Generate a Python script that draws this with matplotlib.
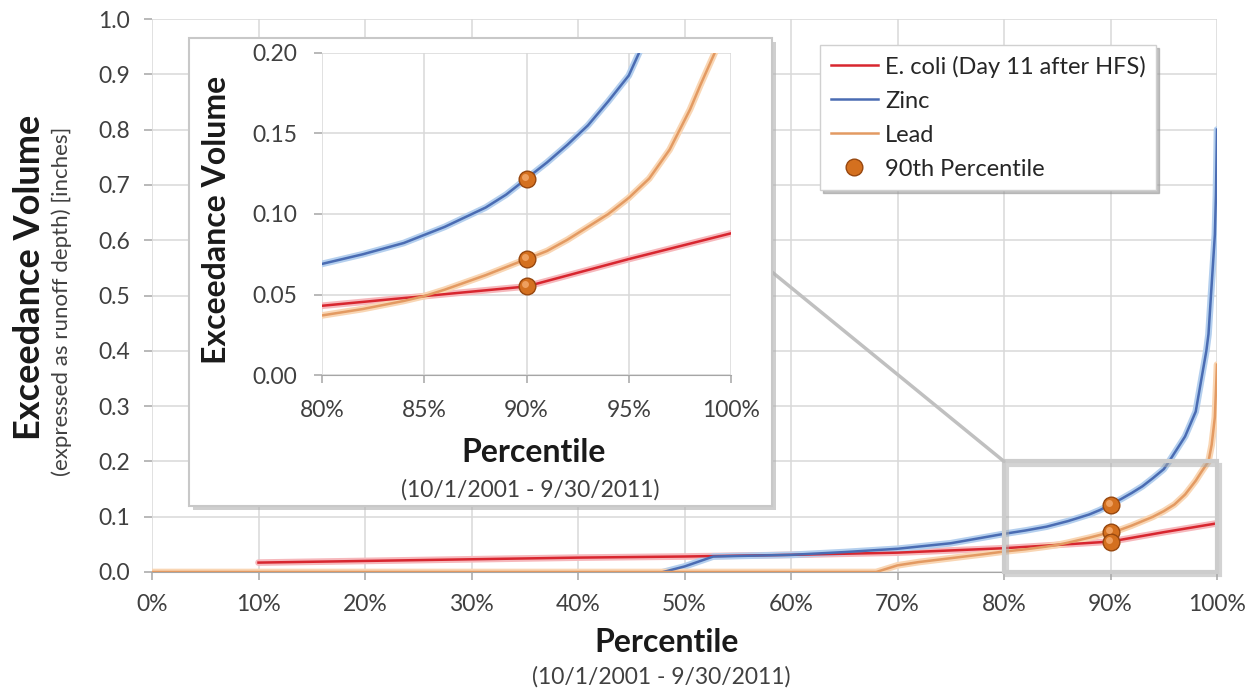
import matplotlib.pyplot as plt
from matplotlib.patches import Rectangle, ConnectionPatch
from matplotlib.ticker import FuncFormatter
import matplotlib.transforms as mtransforms

plt.rcParams['font.family'] = ['Lato', 'DejaVu Sans']

# ---- data ----
ecoli_pct = [10, 20, 30, 40, 50, 60, 70, 75, 80, 85, 90, 95, 100]
ecoli_vol = [0.017, 0.020, 0.023, 0.026, 0.028, 0.031, 0.035, 0.039, 0.043, 0.049, 0.055, 0.072, 0.088]

zinc_pct = [48, 50, 52.7, 55, 60, 65, 70, 75, 80, 82, 84, 85, 86, 88, 89, 90, 91, 92, 93, 94,
            95, 95.5, 96, 97, 98, 99, 99.2, 99.5, 99.8, 99.9, 100]
zinc_vol = [0.000, 0.010, 0.028, 0.029, 0.031, 0.036, 0.042, 0.052, 0.069, 0.075, 0.082, 0.087,
            0.092, 0.104, 0.112, 0.122, 0.132, 0.143, 0.155, 0.170, 0.186, 0.200, 0.215, 0.245,
            0.290, 0.400, 0.430, 0.520, 0.610, 0.680, 0.800]

lead_pct = [0, 68, 70, 72, 75, 78, 80, 82, 84, 85, 86, 88, 89, 90, 91, 92, 93, 94, 95, 96, 97,
            97.4, 98, 98.5, 99.2, 99.5, 99.8, 100]
lead_vol = [0.000, 0.000, 0.012, 0.018, 0.025, 0.032, 0.037, 0.041, 0.046, 0.049, 0.053, 0.062,
            0.067, 0.072, 0.077, 0.084, 0.092, 0.100, 0.110, 0.122, 0.140, 0.150, 0.165, 0.180,
            0.200, 0.230, 0.280, 0.375]

p90_pct = [90, 90, 90]
p90_vol = [0.122, 0.072, 0.055]

series = [
    ('E. coli (Day 11 after HFS)', ecoli_pct, ecoli_vol, '#D8262F', '#F6B8BC'),
    ('Zinc', zinc_pct, zinc_vol, '#4A6CB3', '#B4CFEE'),
    ('Lead', lead_pct, lead_vol, '#E39A62', '#F9D6B4'),
]

W, H = 1253, 691
fig = plt.figure(figsize=(W / 100, H / 100), dpi=100)
fig.patch.set_facecolor('white')

grid_c = '#D9D9D9'
tick_c = '#404040'
ball_face = '#D4701F'
ball_edge = '#97470F'


def style_axes(a):
    for s in ['top', 'right', 'left']:
        a.spines[s].set_visible(False)
    a.spines['bottom'].set_color('#A6A6A6')
    a.grid(True, color=grid_c, lw=1.1, zorder=0)
    a.set_axisbelow(True)
    a.tick_params(axis='both', colors='#A6A6A6', labelcolor=tick_c, labelsize=16.5,
                  length=6, width=1.1, direction='out')


def draw_series(a, lw):
    for name, xs, ys, c, glow in series:
        a.plot(xs, ys, color=glow, lw=lw + 3, solid_capstyle='round', zorder=2)
    for name, xs, ys, c, glow in series:
        a.plot(xs, ys, color=c, lw=lw, label=name, zorder=3)
    hl = mtransforms.offset_copy(a.transData, fig=fig, x=-2, y=2, units='dots')
    a.plot(p90_pct, p90_vol, 'o', ms=12, mfc=ball_face, mec=ball_edge, mew=1,
           zorder=4, label='90th Percentile')
    a.plot(p90_pct, p90_vol, 'o', ms=5, mfc='#F2A566', mec='none', alpha=0.9,
           zorder=5, transform=hl)


# ---- main axes ----
ax = fig.add_axes([152 / W, 1 - 572 / H, 1065 / W, 553 / H])
style_axes(ax)
ax.set_xlim(0, 100)
ax.set_ylim(0, 1.0)
ax.set_xticks(range(0, 101, 10))
ax.set_yticks([i / 10 for i in range(11)])
ax.xaxis.set_major_formatter(FuncFormatter(lambda v, p: f'{v:.0f}%'))
ax.yaxis.set_major_formatter(FuncFormatter(lambda v, p: f'{v:.1f}'))
ax.tick_params(axis='x', pad=10)
ax.tick_params(axis='y', pad=10)
draw_series(ax, 1.8)

# zoom box on main chart
ax.add_patch(Rectangle((80.3, -0.006), 20, 0.2, fill=False, ec='#A8A8A8', lw=3,
                       zorder=5, alpha=0.5, clip_on=False))
ax.add_patch(Rectangle((80, 0), 20, 0.2, fill=False, ec='#CCCCCC', lw=3, zorder=5,
                       clip_on=False))

h, l = ax.get_legend_handles_labels()
leg = ax.legend(h[:4], l[:4], loc='upper left', bbox_to_anchor=(820 / W, 1 - 45 / H),
                bbox_transform=fig.transFigure, fontsize=17, frameon=True, fancybox=False,
                shadow={'color': '#9A9A9A', 'alpha': 0.6}, edgecolor='#D0D0D0',
                borderaxespad=0, handlelength=2.0, handletextpad=0.3, labelspacing=0.55,
                borderpad=0.45)
leg.get_frame().set_linewidth(1)
for t in leg.get_texts():
    t.set_color('#262626')

# main labels
fig.text(30 / W, 1 - 277 / H, 'Exceedance Volume', rotation=90, ha='center', va='center',
         fontsize=26, fontweight='bold', color='#1A1A1A')
fig.text(62 / W, 1 - 301 / H, '(expressed as runoff depth) [inches]', rotation=90,
         ha='center', va='center', fontsize=16, color='#404040')
fig.text(667 / W, 1 - 643 / H, 'Percentile', ha='center', va='center', fontsize=23,
         fontweight='bold', color='#1A1A1A')
fig.text(661 / W, 1 - 677 / H, '(10/1/2001 - 9/30/2011)', ha='center', va='center',
         fontsize=16.5, color='#404040')

# connector line from zoom box to inset frame
con = ConnectionPatch(xyA=(80, 0.2), coordsA=ax.transData,
                      xyB=(772 / W, 1 - 272 / H), coordsB=fig.transFigure,
                      color='#C0C0C0', lw=2.5, zorder=1)
fig.add_artist(con)

# inset frame (shadow + white box)
fl, fr, ft, fb = 189, 772, 38, 506
fig.add_artist(Rectangle(((fl + 4) / W, 1 - (fb + 4) / H), (fr - fl) / W, (fb - ft) / H,
                         transform=fig.transFigure, fc='#B0B0B0', ec='none', alpha=0.6,
                         zorder=1.5))
fig.add_artist(Rectangle((fl / W, 1 - fb / H), (fr - fl) / W, (fb - ft) / H,
                         transform=fig.transFigure, fc='white', ec='#C8C8C8', lw=1.5,
                         zorder=1.6))

# ---- inset axes ----
ins = fig.add_axes([322 / W, 1 - 375 / H, 409 / W, 322 / H], zorder=2)
ins.patch.set_alpha(0)
style_axes(ins)
ins.set_xlim(80, 100)
ins.set_ylim(0, 0.2)
ins.set_xticks([80, 85, 90, 95, 100])
ins.set_yticks([0, 0.05, 0.10, 0.15, 0.20])
ins.xaxis.set_major_formatter(FuncFormatter(lambda v, p: f'{v:.0f}%'))
ins.yaxis.set_major_formatter(FuncFormatter(lambda v, p: f'{v:.2f}'))
ins.tick_params(axis='x', pad=12)
ins.tick_params(axis='y', pad=12)
draw_series(ins, 1.8)

fig.text(216 / W, 1 - 220 / H, 'Exceedance Volume', rotation=90, ha='center', va='center',
         fontsize=23, fontweight='bold', color='#1A1A1A', zorder=3)
fig.text(534 / W, 1 - 452 / H, 'Percentile', ha='center', va='center', fontsize=23,
         fontweight='bold', color='#1A1A1A', zorder=3)
fig.text(530 / W, 1 - 490 / H, '(10/1/2001 - 9/30/2011)', ha='center', va='center',
         fontsize=16.5, color='#404040', zorder=3)

fig.savefig('out.png', dpi=100)
